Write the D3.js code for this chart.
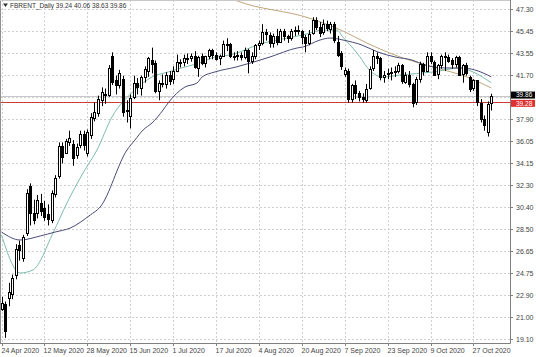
<!DOCTYPE html>
<html><head><meta charset="utf-8">
<script src="https://cdn.jsdelivr.net/npm/d3@7"></script>
<style>body{margin:0;background:#fff}svg{display:block}</style>
</head><body><svg id="c" width="536" height="357"></svg>
<script>
// ---------- data ----------
const symbol = "FBRENT_Daily";
const lastQuote = [39.24, 40.06, 38.63, 39.86];
const dateLabels = ["24 Apr 2020","12 May 2020","28 May 2020","15 Jun 2020","1 Jul 2020","17 Jul 2020","4 Aug 2020","20 Aug 2020","7 Sep 2020","23 Sep 2020","9 Oct 2020","27 Oct 2020"];
const labelBars = [0,12,24,36,48,60,72,84,96,108,120,132];
const priceTicks = [47.30,45.45,43.55,41.70,39.80,37.90,36.05,34.15,32.30,30.40,28.50,26.65,24.75,22.90,21.00,19.10];
const priceTickLabels = ["47.30","45.45","43.55","41.70","","37.90","36.05","34.15","32.30","30.40","28.50","26.65","24.75","22.90","21.00","19.10"];
const hLevel = 39.28;

const open = [21.7,22.1,22.6,22.9,24.6,27.1,26.0,28.2,32.2,29.9,29.9,30.7,30.3,29.8,29.3,31.5,33.0,35.6,35.0,36.0,35.8,34.8,35.7,36.6,35.0,36.6,38.0,38.4,39.5,39.9,
40.0,43.3,41.2,40.8,41.3,38.6,38.2,39.8,41.0,40.6,41.5,42.0,42.9,42.7,40.3,41.0,40.9,41.7,41.3,42.0,
42.8,42.8,43.1,43.1,43.3,42.3,43.3,42.7,43.3,43.8,43.4,43.1,43.3,44.3,44.3,43.3,43.3,43.4,43.2,43.8,
42.9,43.3,44.2,44.4,45.3,45.1,44.4,45.0,44.5,45.4,45.0,44.8,45.4,45.5,45.4,44.9,44.4,45.3,46.4,45.8,
45.3,46.0,45.6,46.0,44.5,43.5,41.8,42.0,39.6,40.8,40.1,39.8,39.6,40.6,42.3,43.3,43.1,41.5,41.7,41.8,
41.9,42.0,42.5,41.1,41.7,40.9,39.3,41.3,42.6,42.0,43.3,42.8,41.7,42.5,43.3,43.2,42.9,42.6,43.2,41.7,
42.5,41.5,40.5,41.2,39.3,37.9,36.8,39.24];
const high = [22.7,22.3,23.9,24.6,27.2,27.5,28.0,31.9,32.4,31.0,31.4,31.5,30.9,30.6,31.8,33.1,35.9,35.9,36.2,36.9,36.1,35.8,36.9,36.9,37.0,38.4,39.3,39.9,40.6,40.5,
42.5,43.6,41.6,42.1,41.6,39.5,40.0,41.6,41.4,41.6,42.4,43.2,44.0,42.9,41.2,41.7,41.9,42.0,42.4,43.4,
43.0,43.4,43.5,43.5,43.7,43.3,43.5,43.3,43.9,43.9,43.6,43.4,44.6,44.8,44.4,43.6,43.7,43.6,44.0,43.9,
43.6,44.3,44.6,46.0,45.6,45.3,45.2,45.6,45.6,45.6,45.1,45.6,45.8,45.9,45.5,45.1,45.5,46.6,46.6,46.2,
46.4,46.3,46.2,46.2,45.0,43.7,42.3,42.2,40.9,41.2,40.3,40.1,40.9,42.4,43.8,43.6,43.2,42.0,42.2,42.3,
42.4,42.7,42.6,41.9,42.0,41.0,41.5,42.8,42.7,43.6,43.6,42.9,42.6,43.4,43.6,43.4,43.1,43.3,43.3,42.6,
42.7,41.6,41.3,41.2,39.6,38.2,39.4,40.06];
const low = [21.5,19.2,21.9,22.5,24.2,25.8,25.7,27.9,28.8,28.9,29.4,29.6,29.2,28.8,29.0,31.2,32.8,34.1,34.9,35.6,33.9,34.5,35.4,35.2,34.7,36.2,37.7,38.1,39.0,39.2,
39.8,40.8,40.0,40.5,38.1,37.6,37.1,39.6,40.0,39.9,41.0,41.5,41.8,40.1,39.5,40.6,40.5,40.8,40.9,41.9,
42.3,42.4,42.6,42.8,42.2,41.5,42.5,42.3,43.0,43.0,42.9,42.5,43.2,43.7,43.1,42.9,42.9,42.9,43.0,41.8,
42.6,43.0,43.8,44.2,44.6,44.0,44.0,44.2,44.4,44.6,44.4,44.6,45.0,45.1,44.3,43.6,44.2,45.1,45.5,44.9,
45.1,45.4,45.2,44.4,43.2,42.1,41.5,39.3,39.3,39.6,39.4,39.3,39.3,40.4,42.0,42.6,41.2,41.0,41.3,41.2,
41.5,41.8,40.9,40.9,40.6,38.9,39.1,41.0,41.6,41.9,42.6,41.6,41.3,42.2,42.0,42.7,42.2,42.3,41.6,41.0,
41.6,40.2,40.3,39.0,37.6,36.9,36.4,38.63];
const close = [22.2,19.8,23.1,24.3,26.8,26.7,27.8,31.6,29.9,29.3,31.0,30.0,29.5,29.4,31.6,32.9,35.6,34.7,36.0,36.3,34.6,35.5,36.6,35.7,36.8,38.1,38.5,39.6,40.2,40.0,
42.3,41.1,40.8,41.8,38.5,38.7,39.7,41.0,40.7,41.5,42.2,43.1,42.6,40.3,41.0,41.0,41.7,41.2,42.0,42.8,
42.8,43.1,43.1,43.3,42.4,43.2,42.7,43.3,43.8,43.4,43.1,43.3,44.3,44.3,43.3,43.3,43.4,43.2,43.8,42.9,
43.3,44.2,44.4,45.3,45.1,44.4,45.0,44.5,45.4,45.0,44.8,45.4,45.5,45.4,44.9,44.4,45.2,46.4,45.8,45.3,
46.0,45.7,46.0,44.6,43.4,42.4,42.1,39.6,40.8,40.1,39.8,39.6,40.5,42.2,43.3,43.1,41.5,41.7,41.8,41.9,
42.0,42.5,41.1,41.7,40.9,39.3,41.3,42.6,42.0,43.3,42.9,41.7,42.5,43.3,43.2,42.9,42.6,43.2,41.7,42.5,
41.8,40.5,41.2,39.3,37.9,37.4,39.2,39.86];

// moving averages (bar index, price)
const maFastBars = [0,5.2,8.8,14.4,18.3,22.8,26.7,30.9,37.3,42.1,46.6,51.3,56.1,59.7,63.9,73.2,77.1,84.3,89.9,93.8,95.5,100.3,102.2,106.7,111.5,120.7,128.3,131.9,137];
const maFastVals = [28.0,24.74,25.0,28.15,30.72,33.28,35.25,38.07,40.38,41.49,41.92,42.34,42.77,43.2,43.37,44.39,44.65,45.08,45.5,45.5,44.9,43.2,42.34,41.49,41.66,41.92,42.26,41.92,41.0];
const maSlowBars = [0,5.2,10.8,15,19.2,24.8,27.6,35.1,37.3,39.6,42.1,45.2,46.6,51.3,54.7,56.1,59.7,65.6,75.1,82.7,84.3,89.1,91.9,95.5,100.8,105.3,110.1,114.8,118.5,124.1,128.8,132.4,137];
const maSlowVals = [28.24,27.56,27.9,28.24,28.58,29.69,30.38,35.25,36.1,36.96,37.56,38.67,39.27,40.63,40.98,41.49,41.92,42.34,43.2,43.97,44.05,44.65,44.82,44.65,44.22,43.62,43.2,42.94,42.51,42.26,42.26,42.09,41.5];
const maLongBars = [62,65.6,86.3,95.5,102.2,111.5,120.7,130.2,137];
const maLongVals = [48.5,48.03,46.5,45.42,44.39,43.2,42.34,41.49,40.55];

// ---------- drawing ----------
const plot = {left: 0, right: 510, top: 0, bottom: 343};
const svg = d3.select("#c");
const font = "'Liberation Sans', Arial, sans-serif";

const x = d3.scaleLinear().domain([0, 137]).range([1.5, 491.3]);
const y = d3.scaleLinear().domain([19.10, 47.30]).range([339, 9]);

svg.append("defs").append("clipPath").attr("id","clip").append("rect")
  .attr("x", plot.left+1).attr("y", plot.top+1).attr("width", plot.right-plot.left-1).attr("height", plot.bottom-plot.top-1);

// grid
const grid = svg.append("g");
priceTicks.forEach(v => {
  const yy = Math.round(y(v)) + 0.5;
  grid.append("line").attr("x1", plot.left).attr("x2", plot.right).attr("y1", yy).attr("y2", yy)
    .attr("stroke", "#d0d0d0").attr("stroke-dasharray", "2,2");
});
labelBars.forEach(b => {
  const xx = Math.round(x(b)) + 0.5;
  grid.append("line").attr("x1", xx).attr("x2", xx).attr("y1", plot.top).attr("y2", plot.bottom)
    .attr("stroke", "#d0d0d0").attr("stroke-dasharray", "2,2");
});

const g = svg.append("g").attr("clip-path", "url(#clip)");

// current price line and level
g.append("line").attr("x1", plot.left).attr("x2", plot.right)
  .attr("y1", Math.round(y(lastQuote[3]))+0.5).attr("y2", Math.round(y(lastQuote[3]))+0.5)
  .attr("stroke", "#c8c8c8");
g.append("line").attr("x1", plot.left).attr("x2", plot.right)
  .attr("y1", Math.round(y(hLevel))-0.5).attr("y2", Math.round(y(hLevel))-0.5)
  .attr("stroke", "#c83c3c");

// moving averages
const line = d3.line().curve(d3.curveMonotoneX);
function drawMA(bars, vals, color, w) {
  g.append("path").attr("d", line(bars.map((b,i)=>[x(b), y(vals[i])])))
    .attr("fill","none").attr("stroke", color).attr("stroke-width", w);
}
drawMA(maLongBars, maLongVals, "#bfa57a", 1);
drawMA(maFastBars, maFastVals, "#7dbcae", 1);
drawMA(maSlowBars, maSlowVals, "#4a4a78", 1);

// candles
const candles = g.append("g");
close.forEach((c, i) => {
  const o = open[i], h = high[i], l = low[i];
  const cx = Math.round(x(i));
  candles.append("line").attr("x1", cx+0.5).attr("x2", cx+0.5)
    .attr("y1", y(h)).attr("y2", y(l)).attr("stroke", "#000").attr("stroke-width", 1);
  const top = y(Math.max(o, c)), bot = y(Math.min(o, c));
  const bull = c >= o;
  candles.append("rect").attr("x", cx-0.5).attr("y", Math.round(top)+0.5)
    .attr("width", 2).attr("height", Math.max(1, Math.round(bot - top)))
    .attr("fill", bull ? "#fff" : "#000").attr("stroke", "#000").attr("stroke-width", 1);
});

// frame / axes
svg.append("line").attr("x1", 0.5).attr("x2", 0.5).attr("y1", 0).attr("y2", plot.bottom).attr("stroke", "#909090");
svg.append("line").attr("x1", 0).attr("x2", plot.right).attr("y1", 0.5).attr("y2", 0.5).attr("stroke", "#c8c8c8");
svg.append("line").attr("x1", plot.right+0.5).attr("x2", plot.right+0.5).attr("y1", 0).attr("y2", plot.bottom+0.5).attr("stroke", "#808080");
svg.append("line").attr("x1", 0).attr("x2", plot.right+0.5).attr("y1", plot.bottom+0.5).attr("y2", plot.bottom+0.5).attr("stroke", "#808080");

// price axis
const yAxis = svg.append("g");
priceTicks.forEach((v, i) => {
  const yy = Math.round(y(v)) + 0.5;
  yAxis.append("line").attr("x1", plot.right).attr("x2", plot.right+3).attr("y1", yy).attr("y2", yy).attr("stroke", "#808080");
  if (priceTickLabels[i]) {
    yAxis.append("text").attr("x", plot.right+6).attr("y", yy+2.5)
      .attr("font-family", font).attr("font-size", 7).attr("fill", "#444")
      .text(priceTickLabels[i]);
  }
});
// date axis
const xAxis = svg.append("g");
labelBars.forEach((b, i) => {
  const xx = Math.round(x(b)) + 0.5;
  xAxis.append("line").attr("x1", xx).attr("x2", xx).attr("y1", plot.bottom).attr("y2", plot.bottom+3).attr("stroke", "#808080");
  xAxis.append("text").attr("x", xx - 1).attr("y", 353)
    .attr("font-family", font).attr("font-size", 7).attr("fill", "#444")
    .text(dateLabels[i]);
});

// price boxes
function priceBox(v, bg, dy) {
  const yy = y(v) + dy;
  svg.append("rect").attr("x", plot.right+1).attr("y", yy-3.5).attr("width", 24).attr("height", 7).attr("fill", bg);
  svg.append("text").attr("x", plot.right+6).attr("y", yy+2.3)
    .attr("font-family", font).attr("font-size", 6.5).attr("fill", "#fff").text(v.toFixed(2));
}
priceBox(hLevel, "#e03030", 0.5);
priceBox(lastQuote[3], "#000", -1);

// header
svg.append("path").attr("d", "M3,3.5 L8,3.5 L5.5,7 Z").attr("fill", "#333");
svg.append("text").attr("x", 10).attr("y", 8)
  .attr("font-family", font).attr("font-size", 6.5).attr("fill", "#333")
  .text(symbol + "  " + lastQuote.map(d=>d.toFixed(2)).join(" "));
</script>
</body></html>
